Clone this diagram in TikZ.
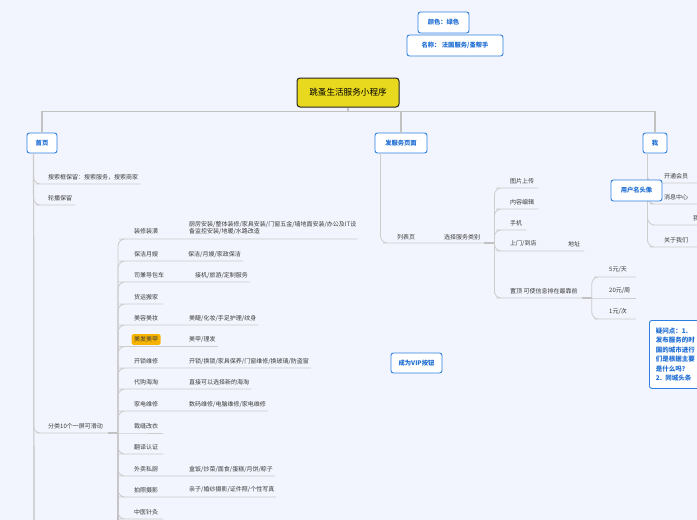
\documentclass[tikz,border=0pt]{standalone}
\usepackage{fontspec}
\setmainfont{Noto Sans CJK SC}
\usetikzlibrary{calc}
\definecolor{bg}{HTML}{F2F5FD}
\definecolor{bblue}{HTML}{2E7FE0}
\definecolor{tblue}{HTML}{1F6ED4}
\definecolor{rootfill}{HTML}{E8D81E}
\definecolor{hilite}{HTML}{F6B300}
\definecolor{txt}{HTML}{3C3C3C}
\definecolor{linec}{HTML}{CDCDCD}
\definecolor{trunkc}{HTML}{C2C2C2}
\begin{document}
\begin{tikzpicture}[x=1pt,y=-1pt,
  lbl/.style={font=\fontsize{6}{7.5}\selectfont, text=txt, inner sep=0pt, anchor=west},
  fbox/.style={draw=bblue, line width=0.9pt, rounded corners=2.5pt, fill=white, text=tblue,
    font=\bfseries\fontsize{6.3}{7.5}\selectfont, inner sep=0pt, minimum height=20pt},
  br/.style={draw=linec, line width=0.8pt, rounded corners=7pt},
  tr/.style={draw=trunkc, line width=1.5pt},
  jt/.style={draw=trunkc, line width=2pt}]
\useasboundingbox (0,0) rectangle (697,520);
\clip (0,0) rectangle (697,520);
\fill[bg] (0,0) rectangle (697,520);

% ---------- top boxes ----------
\node[fbox, minimum width=51pt, minimum height=21pt] (color) at (443.5,22.5) {颜色：绿色};
\node[fbox, minimum width=96pt, minimum height=21pt] (name) at (455,45.5) {名称：\ 法国服务/蚤帮手};
\node[draw=black!85, line width=1pt, rounded corners=3pt, fill=rootfill, minimum width=102pt,
  minimum height=29pt, inner sep=0pt, font=\fontsize{8.6}{10}\selectfont] (root) at (348,92.5) {跳蚤生活服务小程序};

\node[fbox, minimum width=30pt] (home) at (42,143) {首页};
\node[fbox, minimum width=52pt] (post) at (401,143) {发服务页面};
\node[fbox, minimum width=24pt] (me) at (655,143) {我};

\draw[tr] (root.south) -- ++(0,4) coordinate (hb);
\draw[tr] (hb) -| (home.north);
\draw[tr] (hb) -| (post.north);
\draw[tr] (hb) -| (me.north);

% ---------- 首页 ----------
\coordinate (hx) at ($(home.south west)+(7,0)$);
\node[lbl] (s1) at (48,177) {搜索框保留：搜索服务，搜索商家};
\node[lbl] (s2) at (48,198) {轮播保留};
\node[lbl] (s3) at (48,426) {分类10个一屏可滑动};
\draw[tr, line width=1.2pt] (hx) -- (34,530);
\draw[br] (hx) |- ($(s1.west)+(-5,7)$) coordinate (u1) -- ($(u1 -| s1.east)+(2,0)$);
\draw[br] (hx) |- ($(s2.west)+(-5,7)$) coordinate (u2) -- ($(u2 -| s2.east)+(3,0)$);
\draw[br] (hx) |- ($(s3.west)+(-5,7)$) coordinate (u3) -- ($(u3 -| s3.east)+(5,0)$) coordinate (u3e);
\draw[jt] (u3e) -- ++(10,0) coordinate (cj);
\draw[tr, line width=1.2pt] (cj) -- ++(0,100);

% categories
\node[lbl] (c1) at (134,231) {装修装潢};
\node[lbl, align=left] (d1) at (189,228) {厨房安装/整体装修/家具安装/门窗五金/墙地面安装/办公及IT设\\备监控安装/地暖/水路改造};
\node[lbl] (c2) at (134,254) {保洁月嫂};
\node[lbl] (d2) at (188,254) {保洁/月嫂/家政保洁};
\node[lbl] (c3) at (134,275) {司兼导包车};
\node[lbl] (d3) at (195,275) {接机/旅游/定制服务};
\node[lbl] (c4) at (134,297) {货运搬家};
\node[lbl] (c5) at (134,318) {美容美妆};
\node[lbl] (d5) at (189,318) {美睫/化妆/手足护理/纹身};
\node[lbl, fill=hilite, inner sep=2.5pt, rounded corners=1.5pt] (c6) at (131.5,339.5) {美发美甲};
\node[lbl] (d6) at (189,339) {美甲/理发};
\node[lbl] (c7) at (134,361) {开锁维修};
\node[lbl] (d7) at (189,361) {开锁/换锁/家具保养/门窗维修/换玻璃/防盗窗};
\node[lbl] (c8) at (134,382) {代购海淘};
\node[lbl] (d8) at (189,382) {直接可以选择新的海淘};
\node[lbl] (c9) at (134,404) {家电维修};
\node[lbl] (d9) at (189,404) {数码维修/电脑维修/家电维修};
\node[lbl] (c10) at (134,426) {裁缝改衣};
\node[lbl] (c11) at (134,447) {翻译认证};
\node[lbl] (c12) at (134,469) {外卖私厨};
\node[lbl] (d12) at (189,469) {盒饭/炒菜/面食/蛋糕/月饼/粽子};
\node[lbl] (c13) at (134,490) {拍照摄影};
\node[lbl] (d13) at (189,490) {亲子/婚纱摄影/证件照/个性写真};
\node[lbl] (c14) at (134,512) {中医针灸};

\draw[br] (cj) |- ($(c1.west)+(-8,8)$) coordinate (v1) -- ($(v1 -| d1.east)+(1,0)$);
\draw[br] (cj) |- ($(c2.west)+(-8,7)$) coordinate (v2) -- ($(v2 -| d2.east)+(2,0)$);
\draw[br] (cj) |- ($(c3.west)+(-8,7)$) coordinate (v3) -- ($(v3 -| d3.east)+(2,0)$);
\draw[br] (cj) |- ($(c4.west)+(-8,7)$) coordinate (v4) -- ($(v4 -| c4.east)+(5,0)$);
\draw[br] (cj) |- ($(c5.west)+(-8,7)$) coordinate (v5) -- ($(v5 -| d5.east)+(2,0)$);
\draw[br] (cj) |- ($(c6.west)+(-5.5,7)$) coordinate (v6) -- ($(v6 -| d6.east)+(2,0)$);
\draw[br] (cj) |- ($(c7.west)+(-8,7)$) coordinate (v7) -- ($(v7 -| d7.east)+(2,0)$);
\draw[br] (cj) |- ($(c8.west)+(-8,7)$) coordinate (v8) -- ($(v8 -| d8.east)+(2,0)$);
\draw[br] (cj) |- ($(c9.west)+(-8,7)$) coordinate (v9) -- ($(v9 -| d9.east)+(2,0)$);
\draw[br] (cj) -- ($(c10.west)+(-8,7)$) coordinate (v10) -- ($(v10 -| c10.east)+(5,0)$);
\draw[br] (cj) |- ($(c11.west)+(-8,7)$) coordinate (v11) -- ($(v11 -| c11.east)+(5,0)$);
\draw[br] (cj) |- ($(c12.west)+(-8,7)$) coordinate (v12) -- ($(v12 -| d12.east)+(2,0)$);
\draw[br] (cj) |- ($(c13.west)+(-8,7)$) coordinate (v13) -- ($(v13 -| d13.east)+(2,0)$);
\draw[br] (cj) |- ($(c14.west)+(-8,7)$) coordinate (v14) -- ($(v14 -| c14.east)+(5,0)$);

% ---------- 发服务页面 ----------
\coordinate (px) at ($(post.south west)+(6,0)$);
\node[lbl] (lb) at (397,237) {列表页};
\node[lbl] (sel) at (444,237) {选择服务类别};
\draw[br] (px) |- ($(lb.west)+(-7,6)$) coordinate (w0) -- ($(w0 -| sel.east)+(4,0)$) coordinate (w1);
\draw[jt] (w1) -- ++(10,0) coordinate (sj);

\node[lbl] (p1) at (510,181) {图片上传};
\node[lbl] (p2) at (510,202) {内容编辑};
\node[lbl] (p3) at (510,223) {手机};
\node[lbl] (p4) at (510,244) {上门/到店};
\node[lbl] (dz) at (568,244) {地址};
\node[lbl] (p5) at (510,291) {置顶\ 可使信息排在最靠前};
\draw[br] (sj) |- ($(p1.west)+(-7,7)$) coordinate (q1) -- ($(q1 -| p1.east)+(4,0)$);
\draw[br] (sj) |- ($(p2.west)+(-7,7)$) coordinate (q2) -- ($(q2 -| p2.east)+(4,0)$);
\draw[br] (sj) |- ($(p3.west)+(-7,7)$) coordinate (q3) -- ($(q3 -| p3.east)+(4,0)$);
\draw[br] (sj) |- ($(p4.west)+(-7,7)$) coordinate (q4) -- ($(q4 -| dz.east)+(4,0)$);
\draw[br] (sj) |- ($(p5.west)+(-7,7)$) coordinate (q5) -- ($(q5 -| p5.east)+(4,0)$) coordinate (q5e);
\draw[jt] (q5e) -- ++(10,0) coordinate (tj);

\node[lbl] (r1) at (609,270) {5元/天};
\node[lbl] (r2) at (609,291) {20元/周};
\node[lbl] (r3) at (609,312) {1元/次};
\draw[br] (tj) |- ($(r1.west)+(-8,7)$) coordinate (k1) -- ++(35,0);
\draw[br] (tj) -- ($(r2.west)+(-8,7)$) coordinate (k2) -- ++(35,0);
\draw[br] (tj) |- ($(r3.west)+(-8,7)$) coordinate (k3) -- ++(35,0);

% ---------- 我 ----------
\coordinate (mx) at ($(me.south west)+(5,0)$);
\node[lbl] (m1) at (664,176) {开通会员};
\node[lbl] (m2) at (664,197) {消息中心};
\node[lbl] (m3) at (693,218) {我的发布};
\node[lbl] (m4) at (664,240) {关于我们};
\draw[br] (mx) |- ($(m1.west)+(-7,7)$) coordinate (n1) -- ++(60,0);
\draw[br] (mx) |- ($(m2.west)+(-7,7)$) coordinate (n2) -- ++(60,0);
\draw[br] (mx) |- ($(m3.west)+(-33,7)$) coordinate (n3) -- ++(60,0);
\draw[br] (mx) |- ($(m4.west)+(-7,7)$) coordinate (n4) -- ++(60,0);

% ---------- floating boxes ----------
\node[fbox, minimum width=51pt, minimum height=21pt] (user) at (636.5,190.5) {用户名头像};
\node[fbox, minimum width=51pt] (vip) at (416.5,363) {成为VIP按钮};
\node[fbox, anchor=north west, minimum width=80pt, minimum height=68pt, inner xsep=6.5pt, inner ysep=4pt,
  align=left, font=\bfseries\fontsize{6.5}{9.4}\selectfont, text width=67pt] (note) at (649,320)
  {疑问点：1.\\发布服务的时\\国的城市进行\\们是根据主要\\是什么吗？\\2. 同城头条};
\end{tikzpicture}
\end{document}
